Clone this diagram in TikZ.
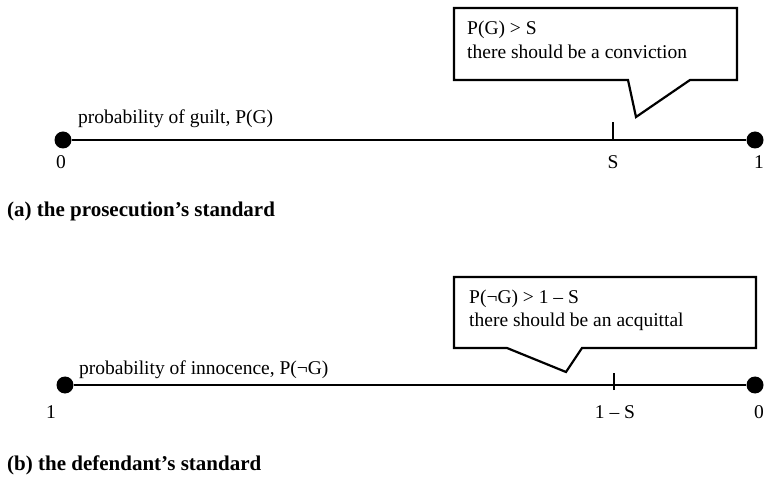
\documentclass[tikz,border=0pt]{standalone}
\usepackage{fontspec}
\setmainfont{Liberation Serif}
\begin{document}
\begin{tikzpicture}[x=1pt,y=-1pt,
  axisline/.style={line width=2.2pt},
  dotnode/.style={circle,fill=black,inner sep=0pt,minimum size=17pt},
  tickline/.style={line width=2pt},
  calloutbox/.style={draw,line width=2.2pt,line join=miter,fill=white},
  txt/.style={font=\fontsize{19.5}{23}\selectfont,inner sep=0pt},
  captxt/.style={font=\fontsize{21}{24}\selectfont\bfseries,inner sep=0pt,anchor=base west}]
\useasboundingbox (0,0) rectangle (766,478);
% ---------- (a) ----------
\node[dotnode] (a0) at (63,140) {};
\node[dotnode] (a1) at (755,140) {};
\draw[axisline] (a0) -- (a1);
\coordinate (aS) at (613,140);
\coordinate (aStop) at (613,122);
\draw[tickline] (aS) -- (aStop);
\node[txt,anchor=base west] (alab) at (78,124) {probability of guilt, P(G)};
\node[txt,anchor=base] (a0l) at (61,169) {0};
\node[txt,anchor=base] (aSl) at (613,169) {S};
\node[txt,anchor=base] (a1l) at (759,169) {1};
\draw[calloutbox] (454,8) -- (737,8) -- (737,80) -- (690,80) -- (636,117) -- (628,80) -- (454,80) -- cycle;
\node[txt,anchor=base west] (at1) at (467,35) {P(G) > S};
\node[txt,anchor=base west] (at2) at (467,59) {there should be a conviction};
\node[captxt] (acap) at (7,217) {(a) the prosecution’s standard};
% ---------- (b) ----------
\node[dotnode] (b1) at (65,385) {};
\node[dotnode] (b0) at (755,385) {};
\draw[axisline] (b1) -- (b0);
\coordinate (bS) at (614,390);
\coordinate (bStop) at (614,373);
\draw[tickline] (bS) -- (bStop);
\node[txt,anchor=base west] (blab) at (79,374) {probability of innocence, P(¬G)};
\node[txt,anchor=base] (b1l) at (51,418) {1};
\node[txt,anchor=base] (bSl) at (615,418) {1 – S};
\node[txt,anchor=base] (b0l) at (759,418) {0};
\draw[calloutbox] (454,277) -- (756,277) -- (756,348) -- (582,348) -- (566,372) -- (507,348) -- (454,348) -- cycle;
\node[txt,anchor=base west] (bt1) at (469,304) {P(¬G) > 1 – S};
\node[txt,anchor=base west] (bt2) at (469,327) {there should be an acquittal};
\node[captxt] (bcap) at (7,470) {(b) the defendant’s standard};
\end{tikzpicture}
\end{document}
